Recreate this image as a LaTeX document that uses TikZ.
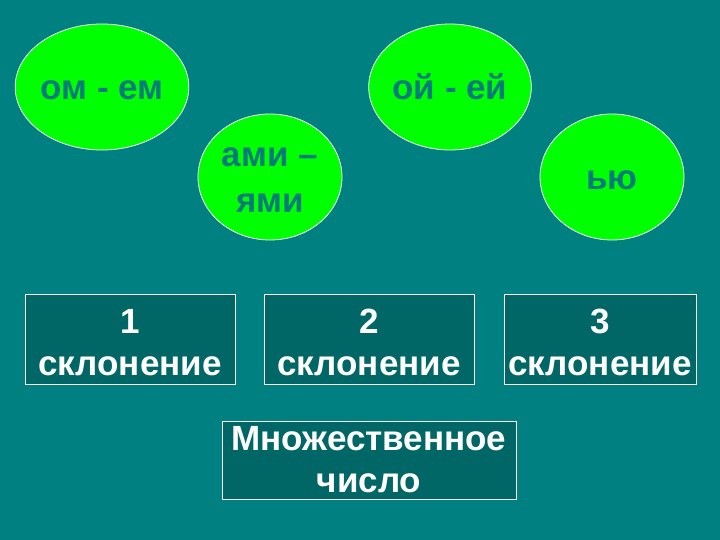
\documentclass[tikz,border=0pt]{standalone}
\usepackage{fontspec}
\setmainfont{Liberation Sans}
\usetikzlibrary{shapes.geometric}
\definecolor{bgteal}{RGB}{0,128,128}
\definecolor{boxteal}{RGB}{0,102,102}
\definecolor{ballgreen}{RGB}{0,255,0}
\definecolor{balltext}{RGB}{0,122,122}
\tikzset{
  ball/.style={ellipse, draw=white, line width=0.8pt, fill=ballgreen, minimum width=144, minimum height=126, inner sep=0pt, text=balltext, font=\fontsize{35}{45}\selectfont\bfseries, align=center, text height=26pt, text depth=0pt},
  declbox/.style={rectangle, draw=white, line width=0.8pt, fill=boxteal, minimum height=90, inner sep=0pt, text=white, font=\fontsize{35}{42}\selectfont\bfseries, align=center, text height=72pt, text depth=0pt}
}
\begin{document}
\begin{tikzpicture}[x=1pt,y=-1pt]
\fill[bgteal] (0,0) rectangle (720,540);
\useasboundingbox (0,0) rectangle (720,540);
\node[ball] (om) at (102,87) {ом - ем};
\node[ball] (oj) at (450,87) {ой - ей};
\node[ball, text height=70pt] (ami) at (270,177) {ами –\\ями};
\node[ball] (ju) at (612,177) {ью};
\node[declbox, minimum width=210] (d1) at (130,339) {1\\склонение};
\node[declbox, minimum width=210] (d2) at (369,339) {2\\склонение};
\node[declbox, minimum width=192] (d3) at (600,339) {3\\склонение};
\node[declbox, minimum width=294, minimum height=78, text height=64pt] (pl) at (369,460) {Множественное\\число};
\end{tikzpicture}
\end{document}
